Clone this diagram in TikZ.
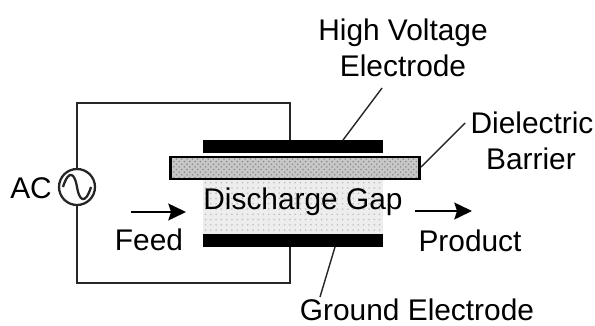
\documentclass[tikz,border=0pt]{standalone}
\usepackage{fontspec}
\setmainfont{Liberation Sans}
\usetikzlibrary{arrows.meta,patterns}
\definecolor{gapgray}{gray}{0.93}
\definecolor{barriergray}{gray}{0.78}
\tikzset{
    label/.style={font=\fontsize{17}{20}\selectfont, inner sep=0pt, outer sep=0pt, anchor=base},
    plate/.style={inner sep=0pt, outer sep=0pt},
    wire/.style={line width=1.3pt, black!85},
    leader/.style={line width=0.8pt, black!85},
    flow/.style={line width=1.5pt, -{Stealth[length=10pt, width=9.5pt, inset=1.5pt]}}
}

\begin{document}
\begin{tikzpicture}[x=0.02cm, y=-0.02cm]
    \useasboundingbox (0, 0) rectangle (595, 325);

    % Reactor plates
    \node[plate, fill=gapgray, minimum width=3.6cm, minimum height=1.1cm] (gap) at (293, 206.5) {};
    \node[plate, pattern=dots, pattern color=black!25, minimum width=3.6cm, minimum height=1.1cm] (gapdots) at (293, 206.5) {};
    \node[plate, fill=black, minimum width=3.6cm, minimum height=0.26cm] (hvplate) at (293, 146.5) {};
    \node[plate, fill=black, minimum width=3.6cm, minimum height=0.26cm] (groundplate) at (293, 240.5) {};
    \node[plate, fill=barriergray, minimum width=5cm, minimum height=0.44cm] (barrier) at (295, 168) {};
    \node[plate, draw, line width=1.7pt, pattern=crosshatch dots, pattern color=black!45, minimum width=5cm, minimum height=0.44cm] (barrierdots) at (295, 168) {};

    % AC source
    \node[plate, draw, wire, fill=white, circle, minimum size=0.72cm] (source) at (77, 187) {};
    \coordinate (sourceleft) at (63, 187);
    \coordinate (sourceright) at (91, 187);
    \draw[wire] (sourceleft) .. controls (69, 168) and (75, 174) .. (77, 187)
        .. controls (79, 200) and (85, 206) .. (sourceright);

    % Circuit wires
    \coordinate (wiretopleft) at (77, 103);
    \coordinate (wiretopright) at (290, 103);
    \coordinate (wirebotleft) at (77, 283);
    \coordinate (wirebotright) at (290, 283);
    \coordinate (hvjoin) at (290, 140);
    \coordinate (groundjoin) at (290, 247);
    \draw[wire] (source.north) -- (wiretopleft) -- (wiretopright) -- (hvjoin);
    \draw[wire] (source.south) -- (wirebotleft) -- (wirebotright) -- (groundjoin);

    % Text
    \node[label] (hvtop) at (403, 40) {High Voltage};
    \node[label] (hvbot) at (403, 76) {Electrode};
    \node[label] (dieltop) at (532, 133) {Dielectric};
    \node[label] (dielbot) at (531, 169) {Barrier};
    \node[label] (gaptext) at (303, 209) {Discharge Gap};
    \node[label] (feed) at (149, 250) {Feed};
    \node[label] (product) at (470, 251) {Product};
    \node[label] (groundtext) at (417, 320) {Ground Electrode};
    \node[label] (ac) at (31, 198) {AC};

    % Flow arrows
    \coordinate (feedstart) at (131, 212);
    \coordinate (feedend) at (186, 212);
    \coordinate (productstart) at (415, 211);
    \coordinate (productend) at (472, 211);
    \draw[flow] (feedstart) -- (feedend);
    \draw[flow] (productstart) -- (productend);

    % Leader lines
    \coordinate (hvfree) at (382, 88);
    \coordinate (hvtouch) at (343, 140);
    \coordinate (dielfree) at (465, 123);
    \coordinate (dieltouch) at (421, 167);
    \coordinate (groundtouch) at (335, 247);
    \coordinate (groundfree) at (320, 297);
    \draw[leader] (hvfree) -- (hvtouch);
    \draw[leader] (dielfree) -- (dieltouch);
    \draw[leader] (groundtouch) -- (groundfree);
\end{tikzpicture}
\end{document}
